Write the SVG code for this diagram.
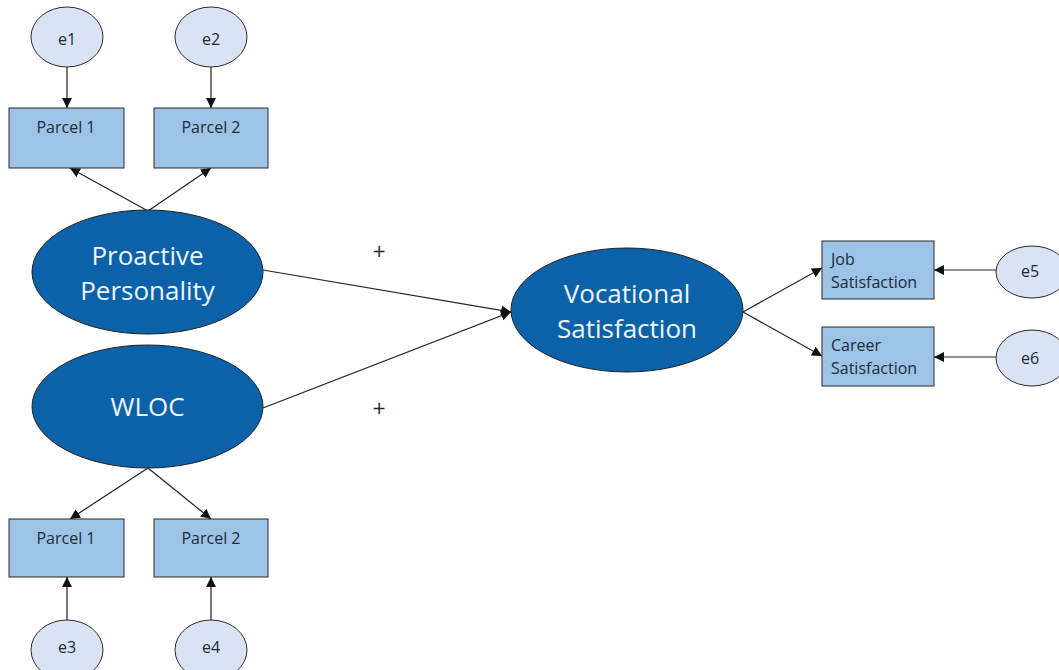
<svg xmlns="http://www.w3.org/2000/svg" width="1059" height="670" viewBox="0 0 1059 670">
<defs>
<marker id="ah" viewBox="0 0 10 10" refX="10" refY="5" markerWidth="10" markerHeight="10" markerUnits="userSpaceOnUse" orient="auto">
<path d="M0,0 L10,5 L0,10 Z" fill="#111"/>
</marker>
<style>
.err{fill:#dae3f3;stroke:#2b2b2b;stroke-width:1}
.ind{fill:#9dc3e6;stroke:#2b2b2b;stroke-width:1}
.lat{fill:#0b62a9;stroke:#222;stroke-width:1}
.t{font-family:"Open Sans","Noto Sans","Liberation Sans",sans-serif;font-size:16px;fill:#1f2a3c;font-variant-ligatures:none}
.lt{font-family:"Open Sans","Noto Sans","Liberation Sans",sans-serif;font-size:26px;fill:#eef4fb;text-anchor:middle;font-variant-ligatures:none}
.c{text-anchor:middle}
.pl{font-family:"DejaVu Sans",sans-serif;font-size:17px;fill:#222;text-anchor:middle}
.conn line{stroke:#222;stroke-width:1.2;marker-end:url(#ah)}
</style>
</defs>
<rect width="1059" height="670" fill="#fff"/>
<g class="conn" id="connectors">
<line x1="67" y1="66" x2="67" y2="108"/>
<line x1="211" y1="66" x2="211" y2="108"/>
<line x1="148" y1="211" x2="70" y2="168"/>
<line x1="148" y1="211" x2="211" y2="168"/>
<line x1="148" y1="468" x2="70" y2="519"/>
<line x1="148" y1="468" x2="211" y2="519"/>
<line x1="67" y1="620" x2="67" y2="577"/>
<line x1="211" y1="620" x2="211" y2="577"/>
<line x1="263" y1="270" x2="511" y2="312"/>
<line x1="263" y1="408" x2="511" y2="312"/>
<line x1="743" y1="312" x2="822" y2="268"/>
<line x1="743" y1="312" x2="822" y2="356"/>
<line x1="996" y1="270" x2="934" y2="270"/>
<line x1="996" y1="357" x2="934" y2="357"/>
</g>
<g id="e1"><ellipse class="err" cx="67" cy="37" rx="36" ry="30"/><text class="t c" x="67" y="45">e1</text></g>
<g id="e2"><ellipse class="err" cx="211" cy="37" rx="36" ry="30"/><text class="t c" x="211" y="45">e2</text></g>
<g id="p1top"><rect class="ind" x="9" y="108" width="115" height="60"/><text class="t c" x="66" y="133">Parcel 1</text></g>
<g id="p2top"><rect class="ind" x="154" y="108" width="114" height="60"/><text class="t c" x="211" y="133">Parcel 2</text></g>
<g id="proactive"><ellipse class="lat" cx="147.5" cy="272" rx="115.5" ry="62"/><text class="lt" x="147.5" y="265">Proactive</text><text class="lt" x="147.5" y="300">Personality</text></g>
<g id="wloc"><ellipse class="lat" cx="147.5" cy="406.5" rx="115.5" ry="61.5"/><text class="lt" x="147.5" y="416">WLOC</text></g>
<g id="p1bot"><rect class="ind" x="9" y="519" width="115" height="58"/><text class="t c" x="66" y="544">Parcel 1</text></g>
<g id="p2bot"><rect class="ind" x="154" y="519" width="114" height="58"/><text class="t c" x="211" y="544">Parcel 2</text></g>
<g id="e3"><ellipse class="err" cx="67" cy="650" rx="36" ry="30"/><text class="t c" x="67" y="653">e3</text></g>
<g id="e4"><ellipse class="err" cx="211" cy="650" rx="36" ry="30"/><text class="t c" x="211" y="653">e4</text></g>
<g id="vocational"><ellipse class="lat" cx="627" cy="310" rx="116" ry="62"/><text class="lt" x="627" y="303">Vocational</text><text class="lt" x="627" y="338">Satisfaction</text></g>
<g id="job"><rect class="ind" x="822" y="241" width="112" height="58"/><text class="t" x="831" y="265">Job</text><text class="t" x="831" y="288">Satisfaction</text></g>
<g id="career"><rect class="ind" x="822" y="327" width="112" height="59"/><text class="t" x="831" y="351">Career</text><text class="t" x="831" y="374">Satisfaction</text></g>
<g id="e5"><ellipse class="err" cx="1032" cy="272" rx="36" ry="26"/><text class="t c" x="1030" y="277">e5</text></g>
<g id="e6"><ellipse class="err" cx="1032" cy="358" rx="36" ry="28"/><text class="t c" x="1030" y="364">e6</text></g>
<g id="labels"><text class="pl" x="379" y="257">+</text><text class="pl" x="379" y="414">+</text></g>
</svg>
